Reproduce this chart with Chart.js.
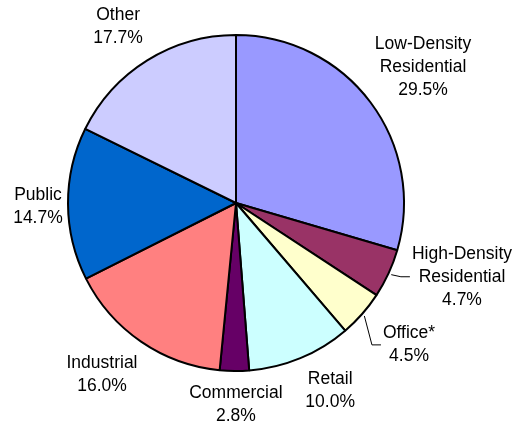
<!DOCTYPE html>
<html>
<head>
<meta charset="utf-8">
<title>Land use</title>
<script src="https://cdn.jsdelivr.net/npm/chart.js@4.4.0/dist/chart.umd.min.js"></script>
<style>
    html, body { margin: 0; padding: 0; background: #fff; }
    canvas { display: block; }
</style>
</head>
<body>
<canvas id="land-use-chart" width="529" height="425"></canvas>
<script>
// slices, clockwise from 12 o'clock
const categories = [
    ['Low-Density', 'Residential'],
    ['High-Density', 'Residential'],
    ['Office*'],
    ['Retail'],
    ['Commercial'],
    ['Industrial'],
    ['Public'],
    ['Other'],
];
const shares = [29.5, 4.7, 4.5, 10.0, 2.8, 16.0, 14.7, 17.7];
const sliceColors = ['#9999FF', '#993366', '#FFFFCC', '#CCFFFF', '#660066', '#FF8080', '#0066CC', '#CCCCFF'];

// where each label sits: turn off the slice middle (degrees) and distance in radii
const labelShift = [0.9, -6.7, -2.0, -4.1, -0.5, 3.5, -0.9, -1.9];
const labelDistance = [1.375, 1.415, 1.332, 1.251, 1.202, 1.298, 1.179, 1.262];
const hasLeader = [false, true, true, false, false, false, false, false];

const FONT = '17.5px "Liberation Sans", Arial, sans-serif';
const LINE_HEIGHT = 23;

const outsideLabels = {
    id: 'outsideLabels',
    afterDraw(chart) {
        const ctx = chart.ctx;
        const meta = chart.getDatasetMeta(0);

        ctx.save();
        ctx.font = FONT;
        ctx.fillStyle = '#000';
        ctx.textAlign = 'center';
        ctx.textBaseline = 'middle';

        meta.data.forEach((arc, i) => {
            const { x, y, startAngle, endAngle, outerRadius } = arc.getProps(['x', 'y', 'startAngle', 'endAngle', 'outerRadius'], true);
            const mid = (startAngle + endAngle) / 2;
            const a = mid + labelShift[i] * Math.PI / 180;
            const cx = x + Math.cos(a) * labelDistance[i] * outerRadius;
            const cy = y + Math.sin(a) * labelDistance[i] * outerRadius;

            const lines = categories[i].concat([shares[i].toFixed(1) + '%']);
            const maxW = Math.max(...lines.map(t => ctx.measureText(t).width));
            lines.forEach((t, k) => {
                ctx.fillText(t, cx, cy + (k - (lines.length - 1) / 2) * LINE_HEIGHT);
            });

            if (hasLeader[i]) {
                const sx = x + Math.cos(mid) * (outerRadius + 3);
                const sy = y + Math.sin(mid) * (outerRadius + 3);
                const ex = cx - maxW / 2 - 2;
                ctx.beginPath();
                ctx.strokeStyle = '#000';
                ctx.lineWidth = 1;
                ctx.moveTo(sx, sy);
                ctx.lineTo(ex - 9, cy);
                ctx.lineTo(ex, cy);
                ctx.stroke();
            }
        });
        ctx.restore();
    },
};

new Chart(document.getElementById('land-use-chart'), {
    type: 'pie',
    data: {
        labels: categories.map(c => c.join(' ')),
        datasets: [
            {
                data: shares,
                backgroundColor: sliceColors,
                borderColor: '#000',
                borderWidth: 2,
            },
        ],
    },
    options: {
        responsive: false,
        animation: false,
        layout: {
            padding: { top: 34, bottom: 53, left: 67, right: 124 },
        },
        plugins: {
            legend: { display: false },
            tooltip: { enabled: false },
        },
    },
    plugins: [outsideLabels],
});
</script>
</body>
</html>
